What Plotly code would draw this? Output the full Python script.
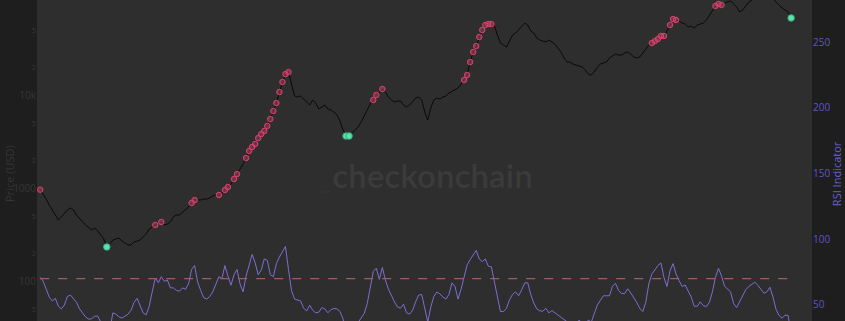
import pandas as pd
import plotly.graph_objects as go

# ---- data (BTC price, USD, sampled every 18 days; 14-period RSI) ----
START_DATE = "2013-12-08"
STEP = "18D"

PRICE = [
    960, 860, 760, 656, 580, 512, 453, 490, 540, 580,
    609, 580, 512, 465, 431, 400, 371, 353, 371, 345,
    312, 283, 232, 256, 276, 283, 290, 269, 256, 244,
    244, 263, 269, 276, 298, 320, 362, 380, 400, 420,
    431, 400, 410, 431, 490, 512, 512, 550, 580, 625,
    690, 743, 743, 743, 760, 760, 781, 820, 841, 841,
    880, 952, 1025, 1100, 1250, 1410, 1561, 1810, 2100, 2500,
    2760, 2970, 3440, 3800, 4100, 4650, 5520, 6730, 8200, 10770,
    13800, 16800, 17660, 13120, 9750, 9510, 9750, 9060, 8410, 7800,
    8840, 8200, 7070, 7430, 7800, 7070, 6900, 6565, 6100, 5250,
    4205, 3620, 3620, 3900, 4205, 4530, 5125, 5950, 7070, 8000,
    8840, 10000, 10500, 11600, 10770, 9500, 8840, 8410, 8620, 8620,
    7800, 7430, 7800, 8620, 9280, 9500, 8840, 6565, 5390, 7250,
    8840, 9280, 9060, 9500, 9750, 10500, 11000, 11300, 11900, 13100,
    14500, 16400, 22600, 29000, 33600, 42000, 50000, 56600, 58000, 58000,
    55200, 44200, 36200, 34500, 32800, 38000, 44200, 46300, 50000, 53900,
    59400, 56600, 48800, 46300, 41000, 39000, 38000, 37150, 39000, 37150,
    35300, 32000, 29000, 25000, 22600, 22600, 21500, 21000, 20500, 20000,
    18560, 16800, 16400, 17660, 20000, 21500, 22100, 22600, 25000, 26300,
    27600, 26900, 26900, 28300, 29000, 27600, 25600, 25000, 25600, 28300,
    31200, 34500, 36200, 38000, 40000, 43100, 43100, 48800, 56600, 65600,
    64000, 62500, 59400, 58000, 53900, 55200, 52500, 56600, 58000, 59400,
    64000, 72500, 82000, 90600, 95200, 92900, 97500, 100000, 102600, 95200,
    88400, 78000, 82000, 90600, 100000, 105000, 110400, 113000, 118900, 113000,
    110400, 116000, 107700, 100000, 90600, 86200, 82000, 78000, 67300,
]

RSI = [
    71, 68, 62, 56, 53, 55, 49, 47, 50, 56.5,
    57.5, 55, 52, 47, 43.5, 40.8, 39.2, 39.5, 41.5, 41.5,
    37, 32, 27.5, 31, 44, 43, 41, 40, 41.5, 43,
    46, 52, 55, 50, 44, 42.5, 49, 60, 70.5, 67,
    71.5, 68, 69, 63, 63, 61, 60.5, 63, 62, 66,
    77, 80, 67.5, 61, 55.5, 54.5, 56.5, 60, 65.5, 71.5,
    70, 80, 72, 65, 73, 77, 66, 60, 72, 80.5,
    88.5, 82, 73, 76.5, 85, 84, 73, 71.5, 81.5, 86.5,
    90.3, 94.5, 77, 61, 54.5, 53.5, 53, 47.5, 45.5, 49.8,
    46, 44, 44.5, 48, 47, 44, 46.5, 47.3, 47, 45,
    39.5, 29, 27.5, 30, 33.5, 37, 40, 43.5, 51, 62,
    75.5, 78, 69.5, 78.5, 69, 62, 57, 52.3, 48.5, 47.5,
    50.5, 44, 43, 46, 52.5, 57.5, 58, 46, 37, 48.5,
    56.5, 59.8, 58.5, 56, 54.5, 58, 66.8, 64, 54.5, 62,
    71.5, 80.5, 84.5, 88, 91.5, 85, 83, 85, 79.5, 79,
    68, 56.3, 45, 45, 47.5, 54, 58, 60, 57, 61.5,
    66.7, 67, 58, 51.5, 47, 45.5, 45.3, 47.4, 44, 45.7,
    44, 42, 40.5, 38.5, 36.5, 35.5, 37, 36, 38.5, 36,
    35, 38.5, 37, 44, 50, 53.5, 57, 57, 57, 64.3,
    66.4, 61, 58.8, 58.6, 62.3, 59.2, 56, 52, 47.5, 45,
    52, 66, 73.5, 77, 80, 82, 71, 64, 76, 81.5,
    73.5, 68.5, 64, 65.2, 61, 56, 49, 49, 52.4, 49.5,
    48.8, 52, 60, 71, 78, 72, 64.3, 62, 60, 51,
    48, 52.5, 57.5, 61.6, 64, 66, 67.4, 65, 62.2, 59,
    60, 63.5, 56, 46.7, 42, 39.9, 42.3, 42, 28,
]

OVERBOUGHT = 70
OVERSOLD = 30
RSI_TICKS = [50, 100, 150, 200, 250]
X_RANGE = ["2013-11-19", "2026-07-01"]
PRICE_RANGE_LOG = [1.5699, 5.0215]
RSI_RANGE = [37.8, 282.1]

df = pd.DataFrame({"price": PRICE, "rsi": RSI})
df["date"] = pd.date_range(START_DATE, periods=len(df), freq=STEP)
ob = df[df["rsi"] > OVERBOUGHT]
os_ = df[df["rsi"] < OVERSOLD]

fig = go.Figure()
fig.add_trace(go.Scatter(x=df["date"], y=df["price"], mode="lines",
                         line=dict(color="#000000", width=0.8), name="Price", yaxis="y"))
fig.add_trace(go.Scatter(x=ob["date"], y=ob["price"], mode="markers",
                         marker=dict(symbol="circle", size=5.5, color="rgba(215,70,110,0.45)",
                                     line=dict(color="#d8416c", width=1)),
                         name="Overbought", yaxis="y"))
fig.add_trace(go.Scatter(x=os_["date"], y=os_["price"], mode="markers",
                         marker=dict(symbol="circle", size=6.5, color="#5fe0ad",
                                     line=dict(color="#2fae80", width=1)),
                         name="Oversold", yaxis="y"))
fig.add_trace(go.Scatter(x=df["date"], y=df["rsi"], mode="lines",
                         line=dict(color="#7a6fd2", width=1), name="RSI", yaxis="y2"))
fig.add_trace(go.Scatter(x=[df["date"].iloc[0], df["date"].iloc[-1]],
                         y=[OVERBOUGHT, OVERBOUGHT], mode="lines",
                         line=dict(color="#a85a64", width=1.3, dash="dash"),
                         name="70", yaxis="y2"))

fig.update_layout(
    template="none",
    width=845, height=321,
    margin=dict(l=37, r=33, t=0, b=0),
    paper_bgcolor="#1e1e1e",
    plot_bgcolor="#2e2e2e",
    showlegend=False,
    xaxis=dict(type="date", range=X_RANGE, showticklabels=False, showgrid=False,
               zeroline=False, showline=False, ticks="", automargin=False),
    yaxis=dict(type="log", range=PRICE_RANGE_LOG, dtick="D2", showgrid=False,
               zeroline=False, showline=False, ticks="",
               tickfont=dict(color="#363636", size=10), automargin=False),
    yaxis2=dict(overlaying="y", side="right", range=RSI_RANGE, tickvals=RSI_TICKS,
                showgrid=False, zeroline=False, showline=False, ticks="",
                tickfont=dict(color="#5f53c8", size=10), automargin=False),
    annotations=[
        dict(text="<span style='color:rgba(225,150,55,0.5)'>_</span><b>checkonchain</b>",
             xref="paper", yref="paper", x=0.5, y=0.455, xanchor="center", yanchor="middle",
             showarrow=False, font=dict(family="Lato", size=33, color="rgba(255,255,255,0.06)")),
        dict(text="Price (USD)", xref="paper", yref="paper", x=-0.0348, y=0.458,
             textangle=-90, showarrow=False, xanchor="center", yanchor="middle",
             font=dict(color="#363636", size=11)),
        dict(text="RSI Indicator", xref="paper", yref="paper", x=1.032, y=0.46,
             textangle=-90, showarrow=False, xanchor="center", yanchor="middle",
             font=dict(color="#6a5ed0", size=11)),
    ],
)

fig.write_html("out.html")
